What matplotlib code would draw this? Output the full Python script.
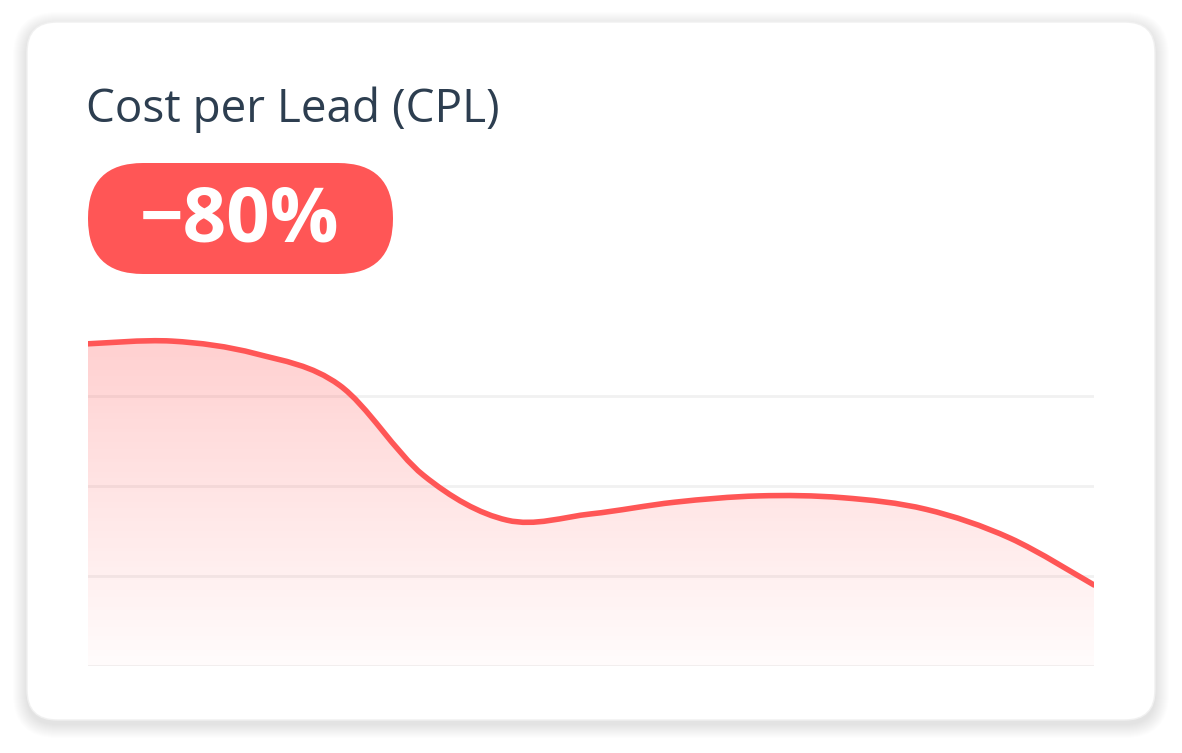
import matplotlib
matplotlib.use("Agg")
import matplotlib.pyplot as plt
import numpy as np
from matplotlib.patches import FancyBboxPatch, PathPatch
from matplotlib.path import Path

# ---- data ----
x_vals = [0, 0.5, 1, 1.5, 2, 2.5, 3, 3.5, 4, 4.5, 5, 5.5, 6]
cpl = [3.58, 3.61, 3.47, 3.12, 2.12, 1.62, 1.69, 1.82, 1.89, 1.87, 1.74, 1.42, 0.9]
grid_levels = [0, 1, 2, 3]
title = "Cost per Lead (CPL)"
badge = "\u221280%"

RED = "#ff5656"
W, H = 1182, 753
fig = plt.figure(figsize=(W / 100, H / 100), dpi=100)
fig.patch.set_facecolor("white")

# card with soft shadow
bg = fig.add_axes([0, 0, 1, 1]); bg.set_xlim(0, W); bg.set_ylim(H, 0); bg.axis("off")
for i in range(14, 0, -1):
    bg.add_patch(FancyBboxPatch((27 - i, 22 - i + 4), 1128 + 2 * i, 698 + 2 * i,
                                boxstyle=f"round,pad=0,rounding_size={30 + i}",
                                fc="black", ec="none", alpha=0.006))
bg.add_patch(FancyBboxPatch((27, 22), 1128, 698, boxstyle="round,pad=0,rounding_size=30",
                            fc="white", ec="#f0f0f0", lw=1))
bg.text(86, 110, title, fontsize=33, color="#2d3e50", va="center", ha="left",
        fontweight="medium", family=["Open Sans", "DejaVu Sans"])
bg.add_patch(FancyBboxPatch((88, 163), 305, 111, boxstyle="round,pad=0,rounding_size=55",
                            fc=RED, ec="none"))
bg.text(240, 222, badge, fontsize=55, color="white", fontweight="bold", va="center",
        ha="center", family=["Open Sans", "DejaVu Sans"])

# chart
ax = fig.add_axes([88 / W, (H - 666) / H, (1094 - 88) / W, (666 - 306) / H])
ax.set_xlim(0, 6); ax.set_ylim(0, 4)
ax.axis("off")
for g in grid_levels:
    ax.axhline(g, color="#f1f1f1", lw=2, zorder=1)

# Catmull-Rom -> cubic bezier path through data points
px = np.array(x_vals, float); py = np.array(cpl, float)
verts = [(px[0], py[0])]; codes = [Path.MOVETO]
for i in range(len(px) - 1):
    p0 = (px[max(i - 1, 0)], py[max(i - 1, 0)])
    p1 = (px[i], py[i]); p2 = (px[i + 1], py[i + 1])
    p3 = (px[min(i + 2, len(px) - 1)], py[min(i + 2, len(px) - 1)])
    c1 = (p1[0] + (p2[0] - p0[0]) / 6, p1[1] + (p2[1] - p0[1]) / 6)
    c2 = (p2[0] - (p3[0] - p1[0]) / 6, p2[1] - (p3[1] - p1[1]) / 6)
    verts += [c1, c2, p2]; codes += [Path.CURVE4] * 3
line = Path(verts, codes)
fill = Path(verts + [(px[-1], 0), (px[0], 0), (px[0], py[0])],
            codes + [Path.LINETO, Path.LINETO, Path.LINETO])
clip = PathPatch(fill, fc="none", ec="none", transform=ax.transData)
ax.add_patch(clip)
grad = np.zeros((100, 1, 4))
grad[..., 0:3] = matplotlib.colors.to_rgb(RED)
grad[:, 0, 3] = np.linspace(0.02, 0.28, 100)
im = ax.imshow(grad, extent=[0, 6, 0, 3.65], origin="lower", aspect="auto", zorder=2)
im.set_clip_path(clip)
ax.set_xlim(0, 6); ax.set_ylim(0, 4)
ax.add_patch(PathPatch(line, fc="none", ec=RED, lw=4, capstyle="round", zorder=3))

fig.savefig("out.png", dpi=100)
